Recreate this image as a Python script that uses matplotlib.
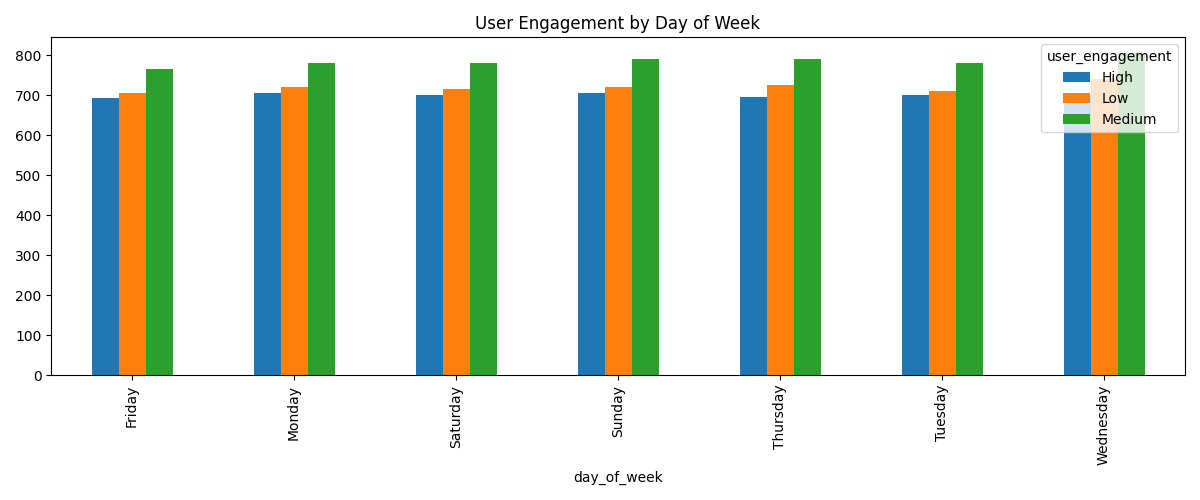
import pandas as pd
import matplotlib
matplotlib.use('Agg')
import matplotlib.pyplot as plt

days = ['Friday', 'Monday', 'Saturday', 'Sunday', 'Thursday', 'Tuesday', 'Wednesday']
high = [693, 705, 702, 705, 695, 700, 700]
low = [707, 722, 715, 720, 725, 712, 742]
medium = [767, 780, 780, 790, 792, 780, 805]

df = pd.DataFrame({'High': high, 'Low': low, 'Medium': medium}, index=days)
df.index.name = 'day_of_week'
df.columns.name = 'user_engagement'

fig, ax = plt.subplots(figsize=(12, 5), dpi=100)
df.plot(kind='bar', ax=ax)
ax.set_title('User Engagement by Day of Week')
ax.set_xlabel('day_of_week')
plt.tight_layout()
plt.savefig('out.png')
